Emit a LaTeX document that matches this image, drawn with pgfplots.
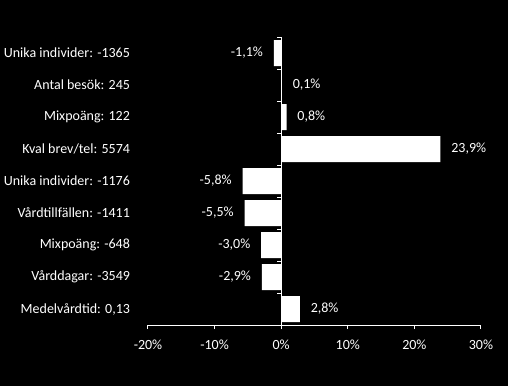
\documentclass[border=0pt]{standalone}
\usepackage{pgfplots}
\pgfplotsset{compat=1.18}
\usepackage{fontspec}
\setmainfont{Carlito}
\begin{document}
\begin{tikzpicture}
\fill[black] (0,0) rectangle (381pt,289.5pt);
\useasboundingbox (0,0) rectangle (381pt,289.5pt);
\begin{axis}[
  at={(111pt,45.75pt)}, anchor=south west,
  width=249.75pt, height=216pt, scale only axis,
  xbar, bar width=19.5pt,
  xmin=-20, xmax=30, ymin=-0.5, ymax=8.5, y dir=reverse,
  axis x line=bottom, axis y line=left,
  x axis line style={white, -, line width=0.75pt},
  y axis line style={draw=none},
  xtick={-20,-10,0,10,20,30},
  xticklabels={-20\%,-10\%,0\%,10\%,20\%,30\%},
  xtick style={white, line width=0.75pt},
  tick align=outside, major tick length=3pt,
  ytick={0,...,8},
  yticklabels={Unika individer: -1365, Antal besök: 245, Mixpoäng: 122, Kval brev/tel: 5574, Unika individer: -1176, Vårdtillfällen: -1411, Mixpoäng: -648, Vårddagar: -3549, {Medelvårdtid: 0,13}},
  ytick style={draw=none},
  tick label style={white, font=\fontsize{10.5}{12}\selectfont},
  yticklabel style={xshift=-7pt},
  xticklabel style={yshift=-5pt},
  point meta=x,
  nodes near coords={\pgfmathprintnumber[fixed,fixed zerofill,precision=1,use comma,assume math mode=true]{\pgfplotspointmeta}\%},
  nodes near coords align=horizontal,
  every node near coord/.append style={white, font=\fontsize{10.5}{12}\selectfont, inner xsep=8pt},
]
\addplot[fill=white, draw=none] coordinates {(-1.1,0) (0.1,1) (0.8,2) (23.9,3) (-5.8,4) (-5.5,5) (-3.0,6) (-2.9,7) (2.8,8)};
\draw[white, line width=0.75pt] (axis cs:0,-0.5) -- (axis cs:0,8.5);
\pgfplotsinvokeforeach{-0.5,0.5,1.5,2.5,3.5,4.5,5.5,6.5,7.5}{
  \draw[white, line width=0.75pt] (axis cs:0,#1) -- ([xshift=-3pt]axis cs:0,#1);
}
\end{axis}
\end{tikzpicture}
\end{document}
